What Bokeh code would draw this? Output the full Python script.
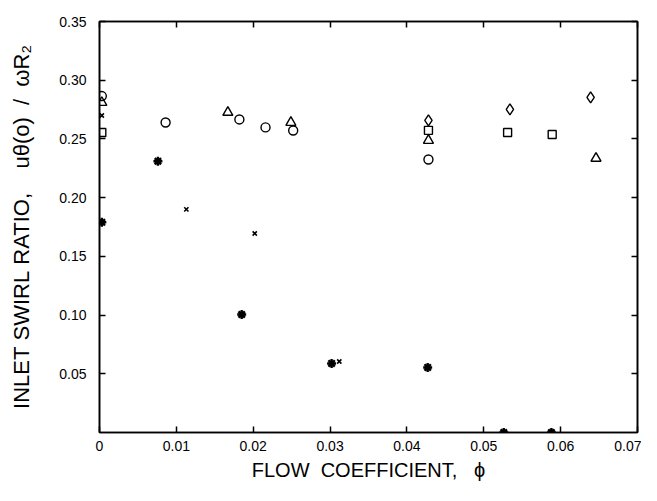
from bokeh.plotting import figure
from bokeh.models import LinearAxis, FixedTicker, Range1d
from bokeh.embed import file_html
from bokeh.resources import INLINE

# ---- data ----
circle_x = [0.0003, 0.0086, 0.0182, 0.0216, 0.0252, 0.0428]
circle_y = [0.2865, 0.264, 0.2666, 0.2598, 0.2572, 0.2325]
triangle_x = [0.0003, 0.0167, 0.0249, 0.0428, 0.0646]
triangle_y = [0.281, 0.2726, 0.264, 0.2487, 0.2335]
square_x = [0.0003, 0.0428, 0.0531, 0.0589]
square_y = [0.2555, 0.2573, 0.2555, 0.2538]
diamond_x = [0.0428, 0.0534, 0.0639]
diamond_y = [0.2658, 0.2751, 0.2853]
cross_x = [0.0003, 0.0113, 0.0202, 0.0312]
cross_y = [0.270, 0.190, 0.1695, 0.0605]
star_x = [0.0003, 0.0076, 0.0185, 0.0302, 0.0427, 0.0526, 0.0588]
star_y = [0.179, 0.231, 0.1005, 0.0588, 0.0554, 0.0, 0.0]

x_ticks = [0.0, 0.01, 0.02, 0.03, 0.04, 0.05, 0.06, 0.07]
x_tick_labels = ["0", "0.01", "0.02", "0.03", "0.04", "0.05", "0.06", "0.07"]
y_ticks = [0.05, 0.10, 0.15, 0.20, 0.25, 0.30, 0.35]
y_tick_labels = ["0.05", "0.10", "0.15", "0.20", "0.25", "0.30", "0.35"]

NB = "\u00A0"
x_title = "FLOW" + NB * 2 + "COEFFICIENT," + NB * 3 + "\u03D5"
y_title = ("INLET" + NB + "SWIRL" + NB + "RATIO," + NB * 4 +
           "u\u03B8(o)" + NB * 2 + "/" + NB * 2 + "\u03C9R\u2082")

FONT = "Liberation Sans"

p = figure(width=641, height=485, output_backend="svg", toolbar_location=None,
           x_range=Range1d(0, 0.07), y_range=Range1d(0, 0.35),
           min_border_left=99, min_border_right=4, min_border_top=21,
           min_border_bottom=53, x_axis_location=None, y_axis_location=None)
p.grid.visible = False
p.outline_line_color = "black"
p.outline_line_width = 1.5
p.background_fill_color = "white"
p.border_fill_color = "white"

def style(ax, labels=True):
    ax.axis_line_color = "black"
    ax.axis_line_width = 1.6
    ax.major_tick_in = 6
    ax.major_tick_out = 0
    ax.major_tick_line_width = 1.5
    ax.minor_tick_line_color = None
    ax.major_label_text_font = FONT
    ax.major_label_text_font_size = "14px"
    ax.major_label_text_color = "black"
    ax.axis_label_text_font = FONT
    ax.axis_label_text_font_style = "normal"
    ax.axis_label_text_font_size = "21px"
    ax.axis_label_text_color = "black"
    if not labels:
        ax.major_label_text_font_size = "0px"
        ax.major_label_standoff = 0

xb = LinearAxis(ticker=FixedTicker(ticks=x_ticks),
                major_label_overrides=dict(zip(x_ticks, x_tick_labels)),
                axis_label=x_title)
style(xb)
xb.major_label_standoff = 8
xb.axis_label_standoff = 5
xb.axis_label_text_font_size = "20px"
p.add_layout(xb, "below")

yl = LinearAxis(ticker=FixedTicker(ticks=y_ticks),
                major_label_overrides=dict(zip(y_ticks, y_tick_labels)),
                axis_label=y_title)
style(yl)
yl.major_label_standoff = 13
yl.axis_label_standoff = 22
yl.axis_label_text_font_size = "22px"
p.add_layout(yl, "left")

xt = LinearAxis(ticker=FixedTicker(ticks=x_ticks))
style(xt, labels=False)
p.add_layout(xt, "above")

yr = LinearAxis(ticker=FixedTicker(ticks=y_ticks))
style(yr, labels=False)
p.add_layout(yr, "right")

p.scatter(circle_x, circle_y, marker="circle", size=9, line_color="black",
          line_width=1.4, fill_alpha=0)
p.scatter(triangle_x, triangle_y, marker="triangle", size=10, line_color="black",
          line_width=1.4, fill_alpha=0)
p.scatter(square_x, square_y, marker="square", size=8, line_color="black",
          line_width=1.4, fill_alpha=0)
p.scatter(diamond_x, diamond_y, marker="diamond", size=11, line_color="black",
          line_width=1.4, fill_alpha=0)
p.scatter(cross_x, cross_y, marker="x", size=6, line_color="black",
          line_width=1.6)
p.scatter(star_x, star_y, marker="asterisk", size=9, line_color="black",
          line_width=2.4)

open("out.html", "w").write(file_html(p, INLINE))
